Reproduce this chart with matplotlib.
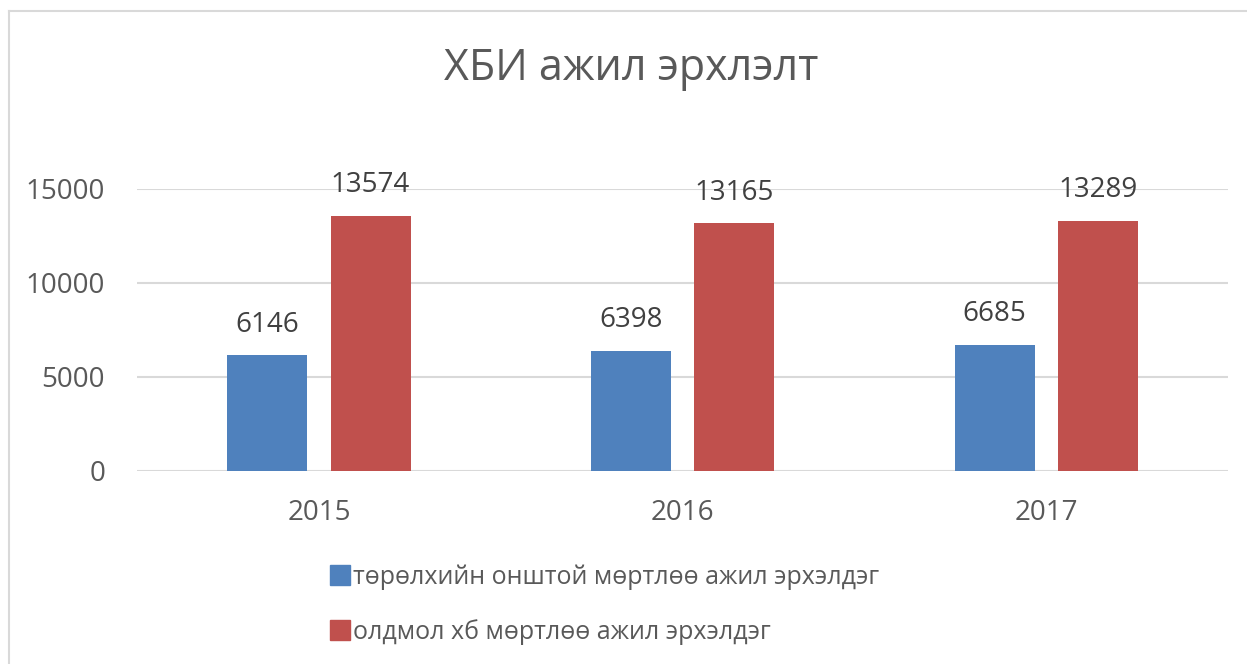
import numpy as np
import matplotlib.pyplot as plt
from matplotlib.lines import Line2D

plt.rcParams['font.family'] = ['Open Sans', 'DejaVu Sans']

years = ['2015', '2016', '2017']
innate = [6146, 6398, 6685]
acquired = [13574, 13165, 13289]
series_names = ['төрөлхийн онштой мөртлөө ажил эрхэлдэг',
                'олдмол хб мөртлөө ажил эрхэлдэг']
title = 'ХБИ ажил эрхлэлт'
yticks = [0, 5000, 10000, 15000]

blue = '#4f81bd'
red = '#c0504d'
grid = '#d9d9d9'

fig = plt.figure(figsize=(12.47, 6.64), dpi=100)
ax = fig.add_axes([0.1099, 0.2907, 0.8749, 0.4247])

x = np.arange(len(years))
w = 0.22
off = 0.142
b1 = ax.bar(x - off, innate, w, color=blue, zorder=3)
b2 = ax.bar(x + off, acquired, w, color=red, zorder=3)

for bars, vals in ((b1, innate), (b2, acquired)):
    for r, v in zip(bars, vals):
        ax.text(r.get_x() + r.get_width() / 2, v + 900, str(v),
                ha='center', va='bottom', fontsize=20, color='#404040',
                clip_on=False)

ax.set_xlim(-0.5, 2.5)
ax.set_ylim(0, 15000)
ax.set_yticks(yticks)
ax.set_yticklabels([str(t) for t in yticks])
ax.set_xticks(x)
ax.set_xticklabels(years)
ax.tick_params(length=0, labelsize=20, labelcolor='#595959')
ax.tick_params(axis='y', pad=23)
ax.tick_params(axis='x', pad=20)
ax.grid(axis='y', color=grid, linewidth=1.5, zorder=0)
ax.set_axisbelow(True)
for s in ax.spines.values():
    s.set_visible(False)

fig.text(0.506, 0.897, title, ha='center', va='center', fontsize=31,
         color='#595959')

handles = [Line2D([], [], marker='s', linestyle='none', markersize=15,
                  color=c) for c in (blue, red)]
fig.legend(handles, series_names, loc='upper left',
           bbox_to_anchor=(0.255, 0.165), frameon=False, fontsize=18,
           labelcolor='#595959', handletextpad=0.0, labelspacing=1.15,
           borderaxespad=0, handlelength=1.0)

# chart frame (left and top edges)
fig.add_artist(Line2D([9 / 1247, 9 / 1247], [0, 1 - 11 / 664],
                      transform=fig.transFigure, color=grid, linewidth=1.5))
fig.add_artist(Line2D([9 / 1247, 1], [1 - 11 / 664, 1 - 11 / 664],
                      transform=fig.transFigure, color=grid, linewidth=1.5))

fig.savefig('out.png', dpi=100)
